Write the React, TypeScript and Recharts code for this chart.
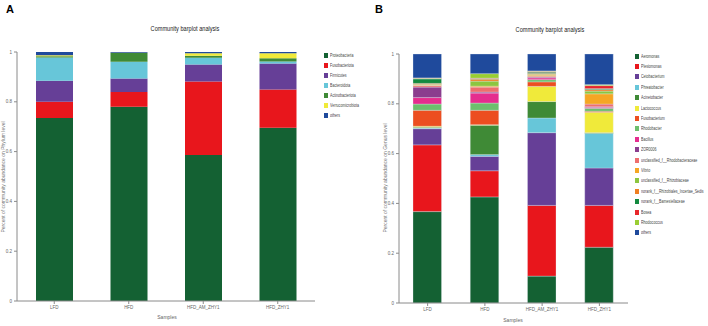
import { BarChart, Bar, XAxis, YAxis } from 'recharts';

const samples = ['LFD', 'HFD', 'HFD_AM_ZHY1', 'HFD_ZHY1'];
const yTicks = [0, 0.2, 0.4, 0.6, 0.8, 1];

// Panel A, phylum level
const phylumNames = ['Proteobacteria', 'Fusobacteriota', 'Firmicutes', 'Bacteroidota', 'Actinobacteriota', 'Verrucomicrobiota', 'others'];
const phylumColors = ['#146133', '#E8161C', '#663F97', '#67C6D9', '#3F8A36', '#F0EA3A', '#1F4A9C'];
const proteobacteria = [0.735, 0.78, 0.586, 0.696];
const fusobacteriota = [0.065, 0.059, 0.296, 0.153];
const firmicutes = [0.085, 0.055, 0.068, 0.105];
const bacteroidota = [0.093, 0.067, 0.027, 0.008];
const actinobacteriota = [0.005, 0.035, 0.008, 0.013];
const verrucomicrobiota = [0.004, 0.001, 0.01, 0.02];
const phylumOthers = [0.013, 0.003, 0.005, 0.005];
const phylumSeries = [proteobacteria, fusobacteriota, firmicutes, bacteroidota, actinobacteriota, verrucomicrobiota, phylumOthers];

// Panel B, genus level
const genusNames = [
  'Aeromonas', 'Plesiomonas', 'Cetobacterium', 'Phreatobacter', 'Acinetobacter', 'Lactococcus',
  'Fusobacterium', 'Rhodobacter', 'Bacillus', 'ZOR0006', 'unclassified_f__Rhodobacteraceae', 'Vibrio',
  'unclassified_f__Rhizobiaceae', 'norank_f__Rhizobiales_Incertae_Sedis', 'norank_f__Barnesiellaceae',
  'Bosea', 'Rhodococcus', 'others',
];
const genusColors = [
  '#146133', '#E8161C', '#663F97', '#67C6D9', '#3F8A36', '#F0EA3A',
  '#EC4E20', '#6DBF6D', '#E52D8E', '#8B3D8E', '#EE6E6E', '#F5A623',
  '#8CC63F', '#F07F22', '#138A3F', '#E8262B', '#9ACD32', '#1F4A9C',
];
const aeromonas = [0.367, 0.426, 0.108, 0.224];
const plesiomonas = [0.268, 0.105, 0.284, 0.168];
const cetobacterium = [0.065, 0.058, 0.292, 0.15];
const phreatobacter = [0.003, 0.007, 0.059, 0.139];
const acinetobacter = [0.003, 0.118, 0.066, 0.003];
const lactococcus = [0.004, 0.002, 0.061, 0.082];
const fusobacterium = [0.064, 0.058, 0.018, 0.004];
const rhodobacter = [0.025, 0.029, 0.009, 0.012];
const bacillus = [0.026, 0.04, 0.007, 0.004];
const zor0006 = [0.042, 0.004, 0.003, 0.002];
const unclRhodobacteraceae = [0.006, 0.02, 0.004, 0.011];
const vibrio = [0.002, 0.004, 0.004, 0.041];
const unclRhizobiaceae = [0.003, 0.02, 0.003, 0.011];
const norankRhizobiales = [0.004, 0.008, 0.004, 0.006];
const norankBarnesiellaceae = [0.018, 0.002, 0.005, 0.004];
const bosea = [0.002, 0.002, 0.003, 0.012];
const rhodococcus = [0.002, 0.018, 0.002, 0.004];
const genusOthers = [0.096, 0.079, 0.068, 0.123];
const genusSeries = [
  aeromonas, plesiomonas, cetobacterium, phreatobacter, acinetobacter, lactococcus,
  fusobacterium, rhodobacter, bacillus, zor0006, unclRhodobacteraceae, vibrio,
  unclRhizobiaceae, norankRhizobiales, norankBarnesiellaceae, bosea, rhodococcus, genusOthers,
];

const buildRows = (names: string[], series: number[][]) =>
  samples.map((s, i) => {
    const row: Record<string, string | number> = { sample: s };
    names.forEach((n, k) => { row[n] = series[k][i]; });
    return row;
  });

const phylumData = buildRows(phylumNames, phylumSeries);
const genusData = buildRows(genusNames, genusSeries);

const sans = '"Liberation Sans", Arial, sans-serif';
const axisColor = '#8a8a8a';
const tick = { fill: '#666', fontSize: 4.5, fontFamily: sans };

const abs = (x: number, y: number, extra: React.CSSProperties = {}): React.CSSProperties => ({
  position: 'absolute', left: x, top: y, whiteSpace: 'nowrap', lineHeight: 1, ...extra,
});

function Legend({ names, colors, x, y, step }: { names: string[]; colors: string[]; x: number; y: number; step: number }) {
  return (
    <>
      {names.map((n, i) => (
        <div key={n} style={abs(x, y + i * step - 2.5, { display: 'flex', alignItems: 'center' })}>
          <span style={{ display: 'inline-block', width: 4, height: 5, background: colors[i], marginRight: 2 }} />
          <span style={{ display: 'inline-block', fontFamily: sans, fontSize: 5, color: '#444', transform: 'scaleX(0.72)', transformOrigin: 'left center' }}>{n}</span>
        </div>
      ))}
    </>
  );
}

export default function App() {
  return (
    <div style={{ position: 'absolute', left: 0, top: 0, width: 708, height: 326, background: '#fff', overflow: 'hidden' }}>
      {/* Panel A */}
      <div style={abs(6, 4, { fontFamily: sans, fontWeight: 'bold', fontSize: 11 })}>A</div>
      <div style={abs(185, 25, { fontFamily: sans, fontSize: 7, color: '#222', transform: 'translateX(-50%) scaleX(0.8)' })}>Community barplot analysis</div>
      <div style={abs(3, 177, { fontFamily: sans, fontSize: 5, color: '#777', transform: 'translate(-50%,-50%) rotate(-90deg)' })}>
        Percent of community abundance on Phylum level
      </div>
      <div style={abs(167, 315, { fontFamily: sans, fontSize: 5, color: '#666', transform: 'translateX(-50%)' })}>Samples</div>
      <div style={abs(0, 0)}>
        <BarChart width={320} height={326} data={phylumData} margin={{ top: 52, right: 5, left: 0, bottom: 0 }}>
          <XAxis dataKey="sample" height={25} tick={tick} tickSize={3} stroke={axisColor} interval={0} />
          <YAxis width={17} domain={[0, 1]} ticks={yTicks} tick={tick} tickSize={3} stroke={axisColor} />
          {phylumNames.map((n, k) => (
            <Bar key={n} dataKey={n} stackId="a" fill={phylumColors[k]} barSize={37} isAnimationActive={false} />
          ))}
        </BarChart>
      </div>
      <Legend names={phylumNames} colors={phylumColors} x={324} y={55} step={10} />

      {/* Panel B */}
      <div style={abs(375, 4, { fontFamily: sans, fontWeight: 'bold', fontSize: 11 })}>B</div>
      <div style={abs(550, 26, { fontFamily: sans, fontSize: 7, color: '#222', transform: 'translateX(-50%) scaleX(0.8)' })}>Community barplot analysis</div>
      <div style={abs(385, 178, { fontFamily: sans, fontSize: 5, color: '#777', transform: 'translate(-50%,-50%) rotate(-90deg)' })}>
        Percent of community abundance on Genus level
      </div>
      <div style={abs(513, 318, { fontFamily: sans, fontSize: 5, color: '#666', transform: 'translateX(-50%)' })}>Samples</div>
      <div style={abs(380, 0)}>
        <BarChart width={250} height={326} data={genusData} margin={{ top: 54, right: 2, left: 0, bottom: 0 }}>
          <XAxis dataKey="sample" height={23} tick={tick} tickSize={3} stroke={axisColor} interval={0} />
          <YAxis width={19} domain={[0, 1]} ticks={yTicks} tick={tick} tickSize={3} stroke={axisColor} />
          {genusNames.map((n, k) => (
            <Bar key={n} dataKey={n} stackId="b" fill={genusColors[k]} barSize={28.5} stroke="#e8eef5" strokeWidth={0.3} isAnimationActive={false} />
          ))}
        </BarChart>
      </div>
      <Legend names={genusNames} colors={genusColors} x={635} y={56} step={10.4} />
    </div>
  );
}
